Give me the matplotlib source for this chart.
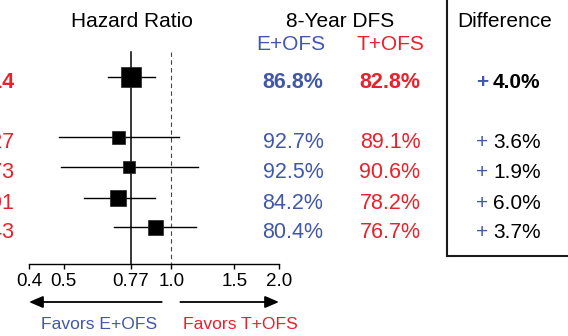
import matplotlib
matplotlib.use("Agg")
import matplotlib.pyplot as plt
from matplotlib.ticker import FixedLocator, NullLocator

# ---------------------------------------------- data ----------------------------------------------
hr = [0.77, 0.71, 0.76, 0.71, 0.90]
ci_low = [0.665, 0.485, 0.49, 0.57, 0.69]
ci_high = [0.90, 1.05, 1.19, 0.90, 1.17]
dfs_e = [86.8, 92.7, 92.5, 84.2, 80.4]
dfs_t = [82.8, 89.1, 90.6, 78.2, 76.7]
left_col = ["0.014", "0.27", "0.73", "0.91", "0.43"]
tick_vals = [0.4, 0.5, 0.77, 1.0, 1.5, 2.0]
tick_labels = ["0.4", "0.5", "0.77", "1.0", "1.5", "2.0"]

# ---------------------------------------------- layout ---------------------------------------------
W, H = 568, 336
row_y = [77, 137, 167, 198, 227]
box_px = [20, 13, 12, 16, 15]
axis_y = 264
BLUE = "#4158A8"
RED = "#E8222C"
SANS = ["Liberation Sans", "DejaVu Sans"]
NARROW = ["Liberation Sans Narrow", "Liberation Sans", "DejaVu Sans"]

fig = plt.figure(figsize=(W / 100, H / 100), dpi=100)
fig.patch.set_facecolor("white")

# forest panel, log scale from 0.4 to 2.0
ax = fig.add_axes([29 / W, 0, 250 / W, 1])
ax.set_xscale("log")
ax.set_xlim(0.4, 2.0)
ax.set_ylim(H, 0)
ax.patch.set_visible(False)
for s in ["top", "left", "right"]:
    ax.spines[s].set_visible(False)
ax.spines["bottom"].set_position(("data", axis_y))
ax.spines["bottom"].set_linewidth(1.0)
ax.yaxis.set_visible(False)
ax.xaxis.set_major_locator(FixedLocator(tick_vals))
ax.xaxis.set_minor_locator(NullLocator())
ax.set_xticklabels(tick_labels, fontfamily=SANS, fontsize=13.5)
ax.tick_params(axis="x", direction="out", length=3.5, width=1.0, pad=3)

ax.plot([hr[0], hr[0]], [52, axis_y], color="black", lw=1.1)
ax.plot([1.0, 1.0], [52, axis_y], color="#444444", lw=0.8, dashes=(4, 3))

for i in range(len(hr)):
    ax.plot([ci_low[i], ci_high[i]], [row_y[i], row_y[i]], color="black", lw=1.0)
    ax.plot(hr[i], row_y[i], marker="s", color="black",
            markersize=box_px[i] * 0.72, markeredgewidth=0.5, markeredgecolor="#222222")

arrow = dict(arrowstyle="-|>,head_length=0.42,head_width=0.18", mutation_scale=20,
             color="black", lw=1.3, shrinkA=0, shrinkB=0)
ax.annotate("", xy=(0.4, 302), xytext=(0.94, 302), arrowprops=arrow)
ax.annotate("", xy=(2.0, 302), xytext=(1.06, 302), arrowprops=arrow)

# text columns and difference box
ov = fig.add_axes([0, 0, 1, 1])
ov.set_xlim(0, W)
ov.set_ylim(H, 0)
ov.axis("off")
ov.patch.set_visible(False)

ov.text(132, 27, "Hazard Ratio", ha="center", va="baseline", fontsize=15, family=SANS)
ov.text(340, 27, "8-Year DFS", ha="center", va="baseline", fontsize=15, family=SANS)
ov.text(291, 50, "E+OFS", ha="center", va="baseline", fontsize=15, family=SANS, color=BLUE)
ov.text(390, 50, "T+OFS", ha="center", va="baseline", fontsize=15, family=SANS, color=RED)
ov.text(0.5, 50, "T+OFS", ha="right", va="baseline", fontsize=15, family=SANS, color=RED)
ov.text(457, 27, "Difference", ha="left", va="baseline", fontsize=15, family=SANS)

for i in range(len(hr)):
    yb = row_y[i] + 11
    wt = "bold" if i == 0 else "normal"
    ov.text(14, yb, left_col[i], ha="right", va="baseline", fontsize=15.5,
            family=NARROW, color=RED, weight=wt)
    ov.text(293, yb, f"{dfs_e[i]:.1f}%", ha="center", va="baseline", fontsize=15.5,
            family=NARROW, color=BLUE, weight=wt)
    ov.text(390, yb, f"{dfs_t[i]:.1f}%", ha="center", va="baseline", fontsize=15.5,
            family=NARROW, color=RED, weight=wt)
    ov.text(488, yb, "+", ha="right", va="baseline", fontsize=15, family=SANS,
            color=BLUE, weight=wt)
    ov.text(493, yb, f"{dfs_e[i] - dfs_t[i]:.1f}%", ha="left", va="baseline", fontsize=15,
            family=SANS, color="black", weight=wt)

ov.plot([447, 447], [-2, 256], color="#1a1a1a", lw=1.5, solid_capstyle="projecting")
ov.plot([447, W + 2], [256, 256], color="#1a1a1a", lw=1.5, solid_capstyle="projecting")

ov.text(99, 329, "Favors E+OFS", ha="center", va="baseline", fontsize=12.6, family=SANS, color=BLUE)
ov.text(183, 329, "Favors T+OFS", ha="left", va="baseline", fontsize=12.6, family=SANS, color=RED)

fig.savefig("out.png", dpi=100)
